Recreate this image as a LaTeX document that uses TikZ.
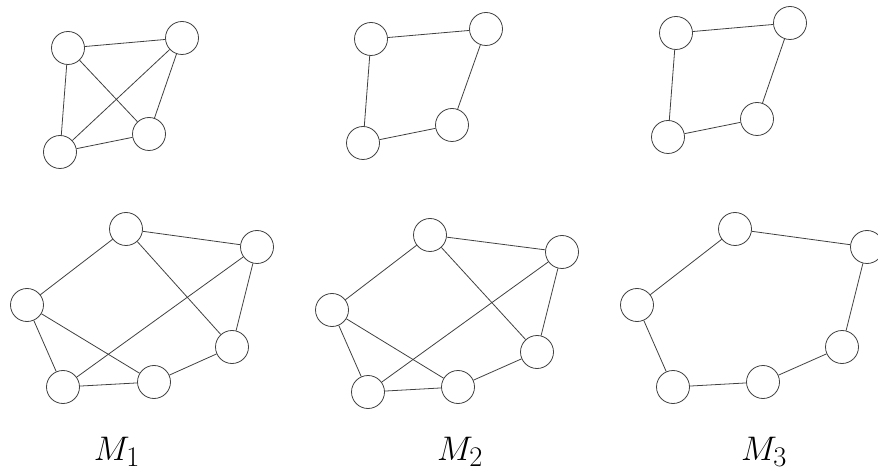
\documentclass[tikz,border=0pt]{standalone}
\usepackage{tikz}
\usetikzlibrary{positioning}

\begin{document}
\begin{tikzpicture}[
    x=1pt, y=-1pt,
    vertex/.style={
      circle,
      draw=black!75,
      line width=0.8pt,
      fill=white,
      minimum size=33pt,
      inner sep=0pt
    },
    edge/.style={
      line width=0.8pt,
      color=black!75
    },
    caption/.style={
      font=\Huge,
      scale=1.37,
      anchor=base,
      inner sep=0pt
    }
  ]
    \useasboundingbox (0,0) rectangle (878,470);

    % Top row: small graphs
    \node[vertex] (pa1) at (68, 48)  {};
    \node[vertex] (pb1) at (182, 38) {};
    \node[vertex] (pc1) at (149, 134) {};
    \node[vertex] (pd1) at (60, 152) {};

    \node[vertex] (pa2) at (371, 39) {};
    \node[vertex] (pb2) at (486, 29) {};
    \node[vertex] (pc2) at (452, 125) {};
    \node[vertex] (pd2) at (363, 143) {};

    \node[vertex] (pa3) at (676, 33) {};
    \node[vertex] (pb3) at (790, 23) {};
    \node[vertex] (pc3) at (757, 119) {};
    \node[vertex] (pd3) at (668, 137) {};

    % Bottom row: larger graphs
    \node[vertex] (gt1) at (126, 229) {};
    \node[vertex] (gr1) at (257, 247) {};
    \node[vertex] (gl1) at (27, 305)  {};
    \node[vertex] (gs1) at (232, 347) {};
    \node[vertex] (gm1) at (154, 382) {};
    \node[vertex] (gb1) at (63, 387)  {};

    \node[vertex] (gt2) at (430, 235) {};
    \node[vertex] (gr2) at (562, 252) {};
    \node[vertex] (gl2) at (332, 310) {};
    \node[vertex] (gs2) at (537, 352) {};
    \node[vertex] (gm2) at (458, 387) {};
    \node[vertex] (gb2) at (368, 392) {};

    \node[vertex] (gt3) at (735, 229) {};
    \node[vertex] (gr3) at (867, 247) {};
    \node[vertex] (gl3) at (637, 305) {};
    \node[vertex] (gs3) at (842, 347) {};
    \node[vertex] (gm3) at (763, 382) {};
    \node[vertex] (gb3) at (673, 387) {};

    % Edges of M1
    \draw[edge] (pa1) -- (pb1);
    \draw[edge] (pa1) -- (pd1);
    \draw[edge] (pa1) -- (pc1);
    \draw[edge] (pb1) -- (pd1);
    \draw[edge] (pb1) -- (pc1);
    \draw[edge] (pd1) -- (pc1);

    \draw[edge] (gt1) -- (gr1);
    \draw[edge] (gt1) -- (gl1);
    \draw[edge] (gt1) -- (gs1);
    \draw[edge] (gr1) -- (gs1);
    \draw[edge] (gr1) -- (gb1);
    \draw[edge] (gl1) -- (gb1);
    \draw[edge] (gl1) -- (gm1);
    \draw[edge] (gb1) -- (gm1);
    \draw[edge] (gm1) -- (gs1);

    % Edges of M2
    \draw[edge] (pa2) -- (pb2);
    \draw[edge] (pa2) -- (pd2);
    \draw[edge] (pb2) -- (pc2);
    \draw[edge] (pd2) -- (pc2);

    \draw[edge] (gt2) -- (gr2);
    \draw[edge] (gt2) -- (gl2);
    \draw[edge] (gt2) -- (gs2);
    \draw[edge] (gr2) -- (gs2);
    \draw[edge] (gr2) -- (gb2);
    \draw[edge] (gl2) -- (gb2);
    \draw[edge] (gl2) -- (gm2);
    \draw[edge] (gb2) -- (gm2);
    \draw[edge] (gm2) -- (gs2);

    % Edges of M3
    \draw[edge] (pa3) -- (pb3);
    \draw[edge] (pa3) -- (pd3);
    \draw[edge] (pb3) -- (pc3);
    \draw[edge] (pd3) -- (pc3);

    \draw[edge] (gt3) -- (gr3);
    \draw[edge] (gr3) -- (gs3);
    \draw[edge] (gs3) -- (gm3);
    \draw[edge] (gm3) -- (gb3);
    \draw[edge] (gb3) -- (gl3);
    \draw[edge] (gl3) -- (gt3);

    % Captions
    \node[caption] (m1) at (117, 460) {$M_1$};
    \node[caption] (m2) at (460, 460) {$M_2$};
    \node[caption] (m3) at (764, 460) {$M_3$};
  \end{tikzpicture}
\end{document}
